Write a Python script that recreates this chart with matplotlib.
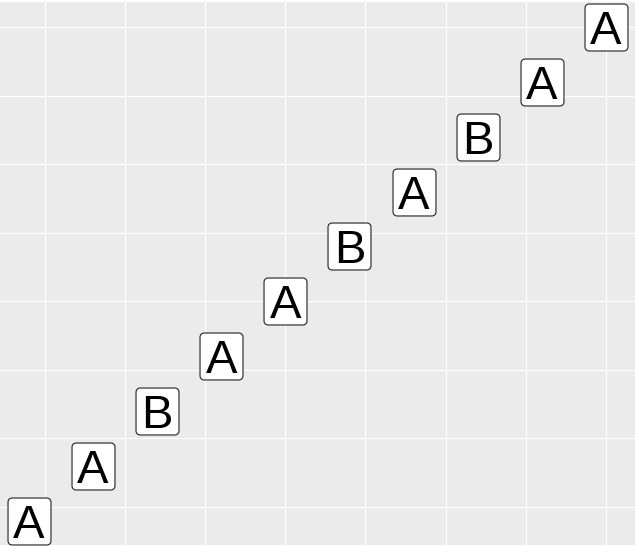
import matplotlib
matplotlib.use("Agg")
import matplotlib.pyplot as plt
import numpy as np
from matplotlib.path import Path

# data
x = [1, 2, 3, 4, 5, 6, 7, 8, 9, 10]
y = [1, 2, 3, 4, 5, 6, 7, 8, 9, 10]
labels = ["A", "A", "B", "A", "A", "B", "A", "B", "A", "A"]
breaks = [1.25, 2.5, 3.75, 5, 6.25, 7.5, 8.75, 10]


def rounded_box(w=43.0, h=47.0, r=4.0, n=8):
    """rounded rectangle marker path (label background)"""
    pts = []
    corners = [(w / 2 - r, h / 2 - r, 0), (-w / 2 + r, h / 2 - r, 90),
               (-w / 2 + r, -h / 2 + r, 180), (w / 2 - r, -h / 2 + r, 270)]
    for cx, cy, a0 in corners:
        t = np.radians(np.linspace(a0, a0 + 90, n))
        pts += list(zip(cx + r * np.cos(t), cy + r * np.sin(t)))
    pts.append(pts[0])
    codes = [Path.MOVETO] + [Path.LINETO] * (len(pts) - 2) + [Path.CLOSEPOLY]
    return Path(pts, codes)


fig = plt.figure(figsize=(6.36, 5.46), dpi=100)
ax = fig.add_axes([0.0, 0.001, 634.7 / 636, 543.1 / 546])
ax.set_facecolor("#EBEBEB")

ax.set_xlim(0.55, 10.45)
ax.set_ylim(0.55, 10.45)
ax.set_xticks(breaks)
ax.set_yticks(breaks)
ax.grid(True, color="white", linewidth=0.8)
ax.set_axisbelow(True)
ax.tick_params(length=0, labelbottom=False, labelleft=False)
for s in ax.spines.values():
    s.set_visible(False)

# label boxes
ax.scatter(x, y, marker=rounded_box(), s=33.8 ** 2, facecolor="white",
           edgecolor="#222222", linewidth=0.8, zorder=3)
for xi, yi, lab in zip(x, y, labels):
    ax.text(xi, yi, lab, ha="center", va="center_baseline", fontsize=34,
            family="Liberation Sans", color="black", zorder=4)

fig.savefig("out.png", dpi=100)
